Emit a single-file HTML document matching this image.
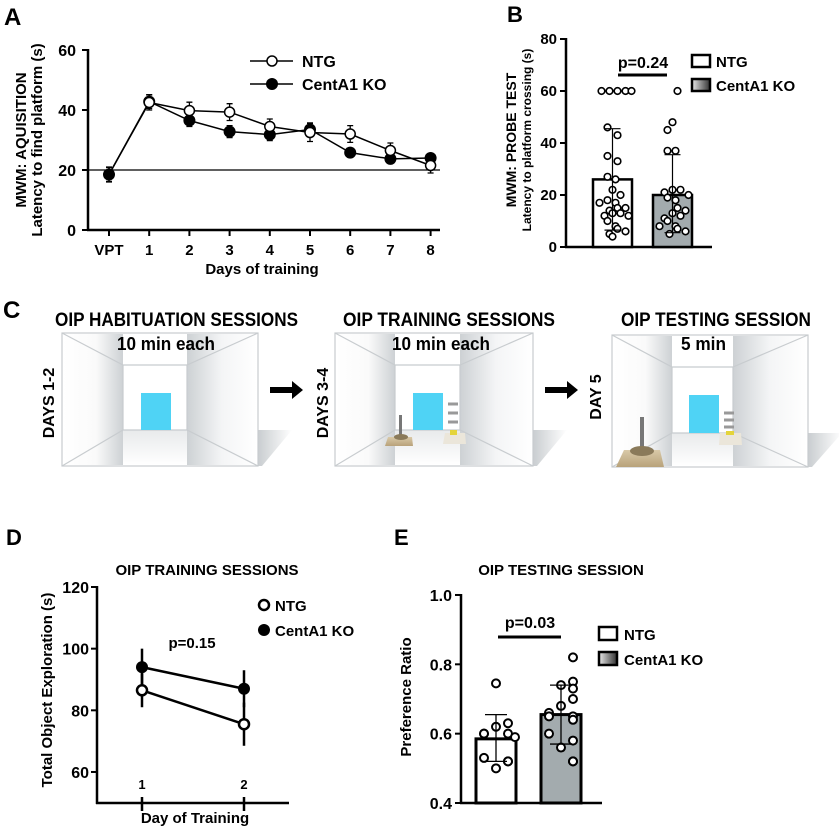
<!DOCTYPE html>
<html><head><meta charset="utf-8"><style>
html,body{margin:0;padding:0;background:#fff;}
svg{display:block;font-family:"Liberation Sans",Arial,sans-serif;font-weight:bold;}
.n{font-family:"Liberation Sans Narrow","Liberation Sans",sans-serif;font-weight:bold;}
</style></head><body>
<svg id="fig" width="839" height="829" viewBox="0 0 839 829" xmlns="http://www.w3.org/2000/svg">
<defs>
<linearGradient id="koFill" x1="0" x2="1"><stop offset="0" stop-color="#a3abae"/><stop offset="1" stop-color="#a3abae"/></linearGradient>
<linearGradient id="legKO" x1="0" x2="1"><stop offset="0" stop-color="#e8e8e8"/><stop offset="1" stop-color="#333"/></linearGradient>
<linearGradient id="wallL" x1="0" x2="1"><stop offset="0" stop-color="#fff"/><stop offset="0.55" stop-color="#fafafa"/><stop offset="1" stop-color="#cdd1d4"/></linearGradient>
<linearGradient id="wallR" x1="0" x2="1"><stop offset="0" stop-color="#cdd1d4"/><stop offset="0.5" stop-color="#f4f5f6"/><stop offset="1" stop-color="#fff"/></linearGradient>
<linearGradient id="floorG" x1="0" x2="0" y1="0" y2="1"><stop offset="0" stop-color="#d9dcde"/><stop offset="1" stop-color="#fff"/></linearGradient>
<linearGradient id="shadowG" x1="0" x2="1"><stop offset="0" stop-color="#c9cdd0"/><stop offset="1" stop-color="#fff"/></linearGradient>
<linearGradient id="baseG" x1="0" x2="0" y1="0" y2="1"><stop offset="0" stop-color="#d9c9a8"/><stop offset="1" stop-color="#b8a27a"/></linearGradient>
</defs>

<text x="4" y="25" font-size="24">A</text>
<text x="507" y="22" font-size="22">B</text>
<text x="3" y="318" font-size="24" class="n">C</text>
<text x="6" y="545" font-size="22">D</text>
<text x="394" y="545" font-size="22">E</text>

<g id="panelA">
  <text transform="translate(26,140) rotate(-90)" text-anchor="middle" font-size="15">MWM: AQUISITION</text>
  <text transform="translate(42,140) rotate(-90)" text-anchor="middle" font-size="15">Latency to find platform (s)</text>
  <text x="262" y="274" text-anchor="middle" font-size="15">Days of training</text>
  <line x1="250" y1="61" x2="293" y2="61" stroke="#000" stroke-width="1.5"/>
  <circle cx="272" cy="61" r="5" fill="#fff" stroke="#000" stroke-width="1.5"/>
  <text x="302" y="67" font-size="16">NTG</text>
  <line x1="250" y1="84" x2="293" y2="84" stroke="#000" stroke-width="1.5"/>
  <circle cx="272" cy="84" r="6" fill="#000"/>
  <text x="302" y="90" font-size="16">CentA1 KO</text>
</g>

<g id="panelB">
  <text transform="translate(516,140) rotate(-90)" text-anchor="middle" font-size="14">MWM: PROBE TEST</text>
  <text transform="translate(531,140) rotate(-90)" text-anchor="middle" font-size="12">Latency to platform crossing (s)</text>
  <rect x="692" y="55" width="18" height="12" fill="#fff" stroke="#000" stroke-width="2.5"/>
  <text x="716" y="67" font-size="15">NTG</text>
  <rect x="692" y="79" width="18" height="12" fill="url(#legKO)" stroke="#000" stroke-width="2.5"/>
  <text x="716" y="91" font-size="15">CentA1 KO</text>
</g>

<g id="panelC">
  <text x="55" y="326" font-size="19" class="n" textLength="243" lengthAdjust="spacingAndGlyphs">OIP HABITUATION SESSIONS</text>
  <text x="343" y="326" font-size="19" class="n" textLength="212" lengthAdjust="spacingAndGlyphs">OIP TRAINING SESSIONS</text>
  <text x="621" y="326" font-size="19" class="n" textLength="190" lengthAdjust="spacingAndGlyphs">OIP TESTING SESSION</text>
</g>

<g id="panelD">
  <text x="207" y="575" text-anchor="middle" font-size="15">OIP TRAINING SESSIONS</text>
  <text transform="translate(52,690) rotate(-90)" text-anchor="middle" font-size="15">Total Object Exploration (s)</text>
  <text x="195" y="823" text-anchor="middle" font-size="15">Day of Training</text>
  <circle cx="264" cy="605" r="5" fill="#fff" stroke="#000" stroke-width="2.5"/>
  <text x="275" y="611" font-size="15">NTG</text>
  <circle cx="264" cy="630" r="6" fill="#000"/>
  <text x="275" y="636" font-size="15">CentA1 KO</text>
  <text x="192" y="648" text-anchor="middle" font-size="15">p=0.15</text>
</g>

<g id="panelE">
  <text x="561" y="575" text-anchor="middle" font-size="15">OIP TESTING SESSION</text>
  <text transform="translate(411,697) rotate(-90)" text-anchor="middle" font-size="15">Preference Ratio</text>
  <rect x="599" y="627" width="18" height="13" fill="#fff" stroke="#000" stroke-width="2.5"/>
  <text x="624" y="640" font-size="15">NTG</text>
  <rect x="599" y="652" width="18" height="13" fill="url(#legKO)" stroke="#000" stroke-width="2.5"/>
  <text x="624" y="665" font-size="15">CentA1 KO</text>
</g>
</svg>

<script>
const aCats = ["VPT","1","2","3","4","5","6","7","8"];
const aNtg = [18.5,42.5,39.8,39.3,34.5,32.5,32,26.5,21.5];
const aNtgErr = [2.5,2.5,2.8,2.8,2.5,3,2.8,2.5,2.5];
const aKo = [18.5,42.8,36.5,32.8,31.8,33.5,25.8,23.7,24];
const aKoErr = [2.3,2.3,2,2,2,2.2,1.5,1.5,1.5];
const aTicks = [0,20,40,60];
const aRef = 20;

const bGroups = ["NTG","CentA1 KO"];
const bMeans = [26,20];
const bSDUp = [45.5,35.5];
const bSDLow = [6.5,5.5];
const bNtgDots = [60,60,60,60,60,46,43,35,33,27,26,22,20,18,17,17,15,15,14,13,13,12,12,10,8,7,6,5,4];
const bKoDots = [60,48,45,37,37,22,22,21,20,19,18,15,14,13,12,11,10,8,8,7,6,5];
const bTicks = [0,20,40,60,80];
const bPText = "p=0.24";

const dCats = ["1","2"];
const dNtg = [86.5,75.5];
const dNtgErr = [5.5,7];
const dKo = [94,87];
const dKoErr = [6,6];
const dTicks = [60,80,100,120];

const eGroups = ["NTG","CentA1 KO"];
const eMeans = [0.585,0.655];
const eSDUp = [0.655,0.74];
const eSDLow = [0.52,0.57];
const eNtgDots = [0.745,0.63,0.62,0.6,0.6,0.6,0.59,0.53,0.52,0.52,0.5];
const eKoDots = [0.82,0.75,0.74,0.73,0.7,0.68,0.66,0.65,0.65,0.64,0.6,0.58,0.56,0.52,0.52];
const eTicks = [0.4,0.6,0.8,1.0];
const ePText = "p=0.03";

const NS = "http://www.w3.org/2000/svg";
function mk(parent, tag, attrs, txt){
  const el = document.createElementNS(NS, tag);
  for (const k in attrs) el.setAttribute(k, attrs[k]);
  if (txt !== undefined) el.textContent = txt;
  parent.appendChild(el);
  return el;
}
let el;

(function(){
  const g = document.getElementById('panelA');
  const y = v => 230 - (v/60)*180;
  const x = i => 109 + i*40.2;
  el = mk(g,'line',{x1:88,y1:49,x2:88,y2:231,stroke:'#000','stroke-width':2.5});
  
  
  el = mk(g,'line',{x1:87,y1:230,x2:440,y2:230,stroke:'#000','stroke-width':2.5});
  
  
  el = mk(g,'line',{x1:88,y1:y(aRef),x2:440,y2:y(aRef),stroke:'#000','stroke-width':1.3});
  
  
  aTicks.forEach(t=>{
    el = mk(g,'line',{x1:82,y1:y(t),x2:88,y2:y(t),stroke:'#000','stroke-width':2});
    
    
    el = mk(g,'text',{x:76,y:y(t)+6,'text-anchor':'end','font-size':16},String(t));
    
    
  });
  aCats.forEach((c,i)=>{
    el = mk(g,'line',{x1:x(i),y1:230,x2:x(i),y2:236,stroke:'#000','stroke-width':2});
    
    
    el = mk(g,'text',{x:x(i),y:255,'text-anchor':'middle','font-size':15},c);
    
    
  });
  const series = [[aNtg,aNtgErr,'ntg'],[aKo,aKoErr,'ko']];
  series.forEach(([vals,errs,nm])=>{
    el = mk(g,'polyline',{points:vals.map((v,i)=>x(i)+','+y(v)).join(' '),fill:'none',stroke:'#000','stroke-width':1.5});
    
    
  });
  series.forEach(([vals,errs,nm])=>{
    vals.forEach((v,i)=>{
      el = mk(g,'path',{d:`M${x(i)},${y(v+errs[i])}V${y(v-errs[i])}M${x(i)-3},${y(v+errs[i])}h6M${x(i)-3},${y(v-errs[i])}h6`,stroke:'#000','stroke-width':1.3,fill:'none'});
      
      
    });
  });
  aKo.forEach((v,i)=>{
    el = mk(g,'circle',{cx:x(i),cy:y(v),r:6,fill:'#000'});
    
    
  });
  aNtg.forEach((v,i)=>{
    if(i===0) return;
    el = mk(g,'circle',{cx:x(i),cy:y(v),r:5,fill:'#fff',stroke:'#000','stroke-width':1.5});
    
    
  });
})();

(function(){
  const g = document.getElementById('panelB');
  const y = v => 247 - (v/80)*208;
  const bx = [593,653], bw = 39;
  el = mk(g,'line',{x1:566,y1:38,x2:566,y2:248,stroke:'#000','stroke-width':2.5});
  
  
  el = mk(g,'line',{x1:565,y1:247,x2:712,y2:247,stroke:'#000','stroke-width':2.5});
  
  
  bTicks.forEach(t=>{
    el = mk(g,'line',{x1:560,y1:y(t),x2:566,y2:y(t),stroke:'#000','stroke-width':2});
    
    
    el = mk(g,'text',{x:557,y:y(t)+5,'text-anchor':'end','font-size':15},String(t));
    
    
  });
  bGroups.forEach((gr,i)=>{
    el = mk(g,'rect',{x:bx[i],y:y(bMeans[i]),width:bw,height:y(0)-y(bMeans[i]),fill:i?'url(#koFill)':'#fff',stroke:'#000','stroke-width':2.5});
    
    
  });
  const dotsets = [bNtgDots,bKoDots];
  dotsets.forEach((ds,gi)=>{
    const cx0 = bx[gi]+bw/2;
    const count = {};
    ds.forEach(v=>{
      const k = Math.round(v/3);
      count[k] = (count[k]||0)+1;
      const n = count[k]-1;
      const off = (n%2?1:-1)*Math.ceil(n/2)*8 + ((k%3)-1)*5;
      el = mk(g,'circle',{cx:cx0+Math.max(-19,Math.min(19,off)),cy:y(v),r:3.3,fill:'#fff',stroke:'#000','stroke-width':1.6});
      
      
    });
  });
  bGroups.forEach((gr,i)=>{
    const cx = bx[i]+bw/2;
    el = mk(g,'path',{d:`M${cx},${y(bSDUp[i])}V${y(bSDLow[i])}M${cx-8},${y(bSDUp[i])}h16M${cx-8},${y(bSDLow[i])}h16`,stroke:'#000','stroke-width':1.2,fill:'none'});
    
    
  });
  el = mk(g,'line',{x1:618,y1:75,x2:667,y2:75,stroke:'#000','stroke-width':3});
  
  
  el = mk(g,'text',{x:643,y:68,'text-anchor':'middle','font-size':16},bPText);
  
  
})();

(function(){
  const g = document.getElementById('panelC');
  const boxes = [
    {L:62,R:258,T:333,B:466,bl:123,br:187,bt:365,bb:430,blue:141,min:'10 min each',mx:117,mw:98,day:'DAYS 1-2',dx:54,dy:403,obj:0,nm:'habituation'},
    {L:335,R:533,T:333,B:466,bl:395,br:460,bt:365,bb:430,blue:413,min:'10 min each',mx:392,mw:98,day:'DAYS 3-4',dx:328,dy:403,obj:1,nm:'training'},
    {L:612,R:808,T:335,B:467,bl:672,br:733,bt:367,bb:433,blue:689,min:'5 min',mx:681,mw:45,day:'DAY 5',dx:601,dy:397,obj:2,nm:'testing'}
  ];
  boxes.forEach(b=>{
    el = mk(g,'polygon',{points:`${b.R},${b.bb} ${b.R+34},${b.bb} ${b.R+4},${b.B} ${b.R},${b.B}`,fill:'url(#shadowG)'});
    
    
    el = mk(g,'rect',{x:b.L,y:b.T,width:b.R-b.L,height:b.B-b.T,fill:'#fff',stroke:'#c8cccf','stroke-width':1.2});
    
    
    el = mk(g,'rect',{x:b.L+1,y:b.T+1,width:b.bl-b.L-1,height:b.B-b.T-2,fill:'url(#wallL)'});
    
    
    el = mk(g,'rect',{x:b.br,y:b.T+1,width:b.R-b.br-1,height:b.B-b.T-2,fill:'url(#wallR)'});
    
    
    el = mk(g,'rect',{x:b.bl,y:b.bb,width:b.br-b.bl,height:b.B-b.bb-1,fill:'url(#floorG)',opacity:0.6});
    
    
    el = mk(g,'path',{d:`M${b.L},${b.T}L${b.bl},${b.bt}H${b.br}L${b.R},${b.T}M${b.L},${b.B}L${b.bl},${b.bb}H${b.br}L${b.R},${b.B}M${b.bl},${b.bt}V${b.bb}M${b.br},${b.bt}V${b.bb}`,fill:'none',stroke:'#c8cccf','stroke-width':1.2});
    
    
    el = mk(g,'rect',{x:b.blue,y:b.bt+28,width:30,height:b.bb-b.bt-28,fill:'#4fd3f5'});
    
    
    el = mk(g,'text',{x:b.mx,y:350,'font-size':18,class:'n',textLength:b.mw,lengthAdjust:'spacingAndGlyphs'},b.min);
    
    
    el = mk(g,'text',{transform:`translate(${b.dx},${b.dy}) rotate(-90)`,'text-anchor':'middle','font-size':16},b.day);
    
    
    if(b.obj===1){
      el = mk(g,'polygon',{points:'388,437 412,437 413,446 385,446',fill:'url(#baseG)'});
      
      
      el = mk(g,'rect',{x:399,y:415,width:3,height:22,fill:'#777'});
      
      
      el = mk(g,'ellipse',{cx:401,cy:437,rx:7,ry:3,fill:'#8a7a5a'});
      
      
      el = mk(g,'polygon',{points:'445,433 465,433 466,444 443,444',fill:'#ebe6da'});
      
      
      el = mk(g,'path',{d:'M448,404h10M448,413h10M448,422h10',stroke:'#999','stroke-width':3});
      
      
      el = mk(g,'rect',{x:450,y:430,width:7,height:5,fill:'#e4d43a'});
      
      
    }
    if(b.obj===2){
      el = mk(g,'polygon',{points:'624,450 660,450 664,467 616,467',fill:'url(#baseG)'});
      
      
      el = mk(g,'rect',{x:640,y:417,width:4,height:33,fill:'#777'});
      
      
      el = mk(g,'ellipse',{cx:642,cy:451,rx:12,ry:5,fill:'#8a7a5a'});
      
      
      el = mk(g,'polygon',{points:'720,433 741,433 742,445 719,445',fill:'#ebe6da'});
      
      
      el = mk(g,'path',{d:'M724,413h10M724,420h10M724,427h10',stroke:'#999','stroke-width':3});
      
      
      el = mk(g,'rect',{x:726,y:431,width:8,height:4,fill:'#e4d43a'});
      
      
    }
  });
  [[270,390],[545,390]].forEach(([ax,ay])=>{
    el = mk(g,'path',{d:`M${ax},${ay-3}h22v-6l11,9l-11,9v-6h-22z`,fill:'#000'});
    
    
  });
})();

(function(){
  const g = document.getElementById('panelD');
  const y = v => 587 + (120-v)*3.083;
  const x = i => 142 + i*102;
  el = mk(g,'line',{x1:97,y1:586,x2:97,y2:804,stroke:'#000','stroke-width':2.5});
  
  
  el = mk(g,'line',{x1:96,y1:803,x2:289,y2:803,stroke:'#000','stroke-width':2.5});
  
  
  dTicks.forEach(t=>{
    el = mk(g,'line',{x1:91,y1:y(t),x2:97,y2:y(t),stroke:'#000','stroke-width':2});
    
    
    el = mk(g,'text',{x:89,y:y(t)+6,'text-anchor':'end','font-size':16},String(t));
    
    
  });
  dCats.forEach((c,i)=>{
    el = mk(g,'line',{x1:x(i),y1:797,x2:x(i),y2:811,stroke:'#000','stroke-width':2.5});
    
    
    el = mk(g,'text',{x:x(i),y:789,'text-anchor':'middle','font-size':13},c);
    
    
  });
  const series = [[dNtg,dNtgErr,'ntg'],[dKo,dKoErr,'ko']];
  series.forEach(([vals,errs,nm])=>{
    vals.forEach((v,i)=>{
      el = mk(g,'line',{x1:x(i),y1:y(v+errs[i]),x2:x(i),y2:y(v-errs[i]),stroke:'#000','stroke-width':2.5});
      
      
    });
    el = mk(g,'polyline',{points:vals.map((v,i)=>x(i)+','+y(v)).join(' '),fill:'none',stroke:'#000','stroke-width':2.5});
    
    
  });
  dKo.forEach((v,i)=>{
    el = mk(g,'circle',{cx:x(i),cy:y(v),r:6,fill:'#000'});
    
    
  });
  dNtg.forEach((v,i)=>{
    el = mk(g,'circle',{cx:x(i),cy:y(v),r:5,fill:'#fff',stroke:'#000','stroke-width':2.5});
    
    
  });
})();

(function(){
  const g = document.getElementById('panelE');
  const y = v => 803 - (v-0.4)*346.7;
  const bx = [476,541], bw = 40;
  el = mk(g,'line',{x1:461,y1:594,x2:461,y2:804,stroke:'#000','stroke-width':2.5});
  
  
  el = mk(g,'line',{x1:460,y1:803,x2:602,y2:803,stroke:'#000','stroke-width':2.5});
  
  
  eTicks.forEach(t=>{
    el = mk(g,'line',{x1:455,y1:y(t),x2:461,y2:y(t),stroke:'#000','stroke-width':2});
    
    
    el = mk(g,'text',{x:452,y:y(t)+6,'text-anchor':'end','font-size':16},t.toFixed(1));
    
    
  });
  eGroups.forEach((gr,i)=>{
    el = mk(g,'rect',{x:bx[i],y:y(eMeans[i]),width:bw,height:y(0.4)-y(eMeans[i]),fill:i?'url(#koFill)':'#fff',stroke:'#000','stroke-width':3});
    
    
  });
  [eNtgDots,eKoDots].forEach((ds,gi)=>{
    const cx0 = bx[gi]+bw/2;
    const count = {};
    ds.forEach(v=>{
      const k = Math.round(v*50);
      count[k] = (count[k]||0)+1;
      const n = count[k]-1;
      const off = n===0 ? ((k%3)-1)*12 : (n%2?1:-1)*Math.ceil(n/2)*12;
      el = mk(g,'circle',{cx:cx0+Math.max(-19,Math.min(19,off)),cy:y(v),r:4,fill:'#fff',stroke:'#000','stroke-width':2});
      
      
    });
  });
  eGroups.forEach((gr,i)=>{
    const cx = bx[i]+bw/2;
    el = mk(g,'path',{d:`M${cx},${y(eSDUp[i])}V${y(eSDLow[i])}M${cx-11},${y(eSDUp[i])}h22M${cx-11},${y(eSDLow[i])}h22`,stroke:'#000','stroke-width':1.3,fill:'none'});
    
    
  });
  el = mk(g,'line',{x1:498,y1:637,x2:561,y2:637,stroke:'#000','stroke-width':3});
  
  
  el = mk(g,'text',{x:530,y:628,'text-anchor':'middle','font-size':16},ePText);
  
  
})();
</script>
</body></html>
